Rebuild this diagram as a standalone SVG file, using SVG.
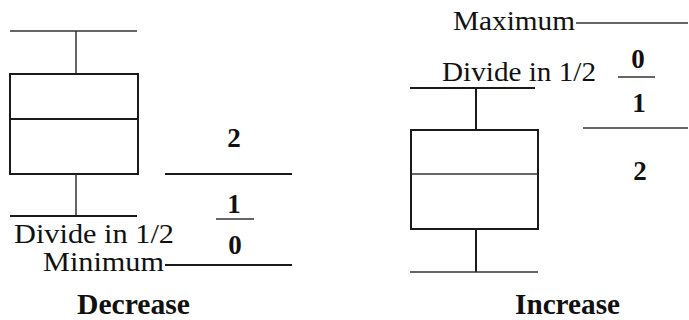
<svg xmlns="http://www.w3.org/2000/svg" width="689" height="320" viewBox="0 0 689 320">
<style>
.ln{stroke:#1a1a1a;stroke-width:2;fill:none}
.thin{stroke:#333;stroke-width:1.5;fill:none}
text{fill:#111}
.lbl{font-size:28px}
.num{font-size:27px;font-weight:bold;text-anchor:middle}
.ttl{font-size:29px;font-weight:bold}
</style>
<rect width="689" height="320" fill="#fff"/>
<g id="decrease-boxplot">
<line class="thin" x1="10" y1="31" x2="137" y2="31"/>
<line class="thin" x1="76" y1="31" x2="76" y2="74"/>
<rect class="ln" x="10" y="74" width="128" height="100"/>
<line class="ln" x1="10" y1="119" x2="138" y2="119"/>
<line class="thin" x1="76" y1="174" x2="76" y2="216"/>
<line class="ln" x1="10" y1="216" x2="137" y2="216"/>
</g>
<g id="decrease-labels" font-family="Liberation Serif, Tinos, Times New Roman, Noto Serif, serif">
<text class="lbl" x="14" y="243" textLength="160" lengthAdjust="spacingAndGlyphs">Divide in 1/2</text>
<text class="lbl" x="43" y="271" textLength="121" lengthAdjust="spacingAndGlyphs">Minimum</text>
<text class="num" x="234" y="147">2</text>
<text class="num" x="234" y="213">1</text>
<text class="num" x="235" y="254">0</text>
<text class="ttl" x="77" y="314" textLength="113" lengthAdjust="spacingAndGlyphs">Decrease</text>
</g>
<g id="increase-boxplot">
<line class="ln" x1="410" y1="88" x2="535" y2="88"/>
<line class="ln" x1="476" y1="88" x2="476" y2="130"/>
<rect class="ln" x="411" y="130" width="127" height="99"/>
<line class="thin" x1="411" y1="174" x2="538" y2="174"/>
<line class="ln" x1="476" y1="229" x2="476" y2="272"/>
<line class="thin" x1="410" y1="272" x2="538" y2="272"/>
</g>
<g id="increase-labels" font-family="Liberation Serif, Tinos, Times New Roman, Noto Serif, serif">
<text class="lbl" x="453" y="30" textLength="122" lengthAdjust="spacingAndGlyphs">Maximum</text>
<text class="lbl" x="442" y="81" textLength="154" lengthAdjust="spacingAndGlyphs">Divide in 1/2</text>
<text class="num" x="638" y="68">0</text>
<text class="num" x="639" y="112">1</text>
<text class="num" x="640" y="180">2</text>
<text class="ttl" x="515" y="314" textLength="105" lengthAdjust="spacingAndGlyphs">Increase</text>
</g>
<g id="connectors">
<line class="ln" x1="165" y1="174" x2="292" y2="174"/>
<line class="thin" x1="216" y1="219" x2="254" y2="219"/>
<line class="ln" x1="165" y1="265" x2="292" y2="265"/>
<line class="thin" x1="576" y1="23" x2="688" y2="23"/>
<line class="thin" x1="618" y1="77" x2="655" y2="77"/>
<line class="thin" x1="583" y1="128" x2="688" y2="128"/>
</g>
</svg>
